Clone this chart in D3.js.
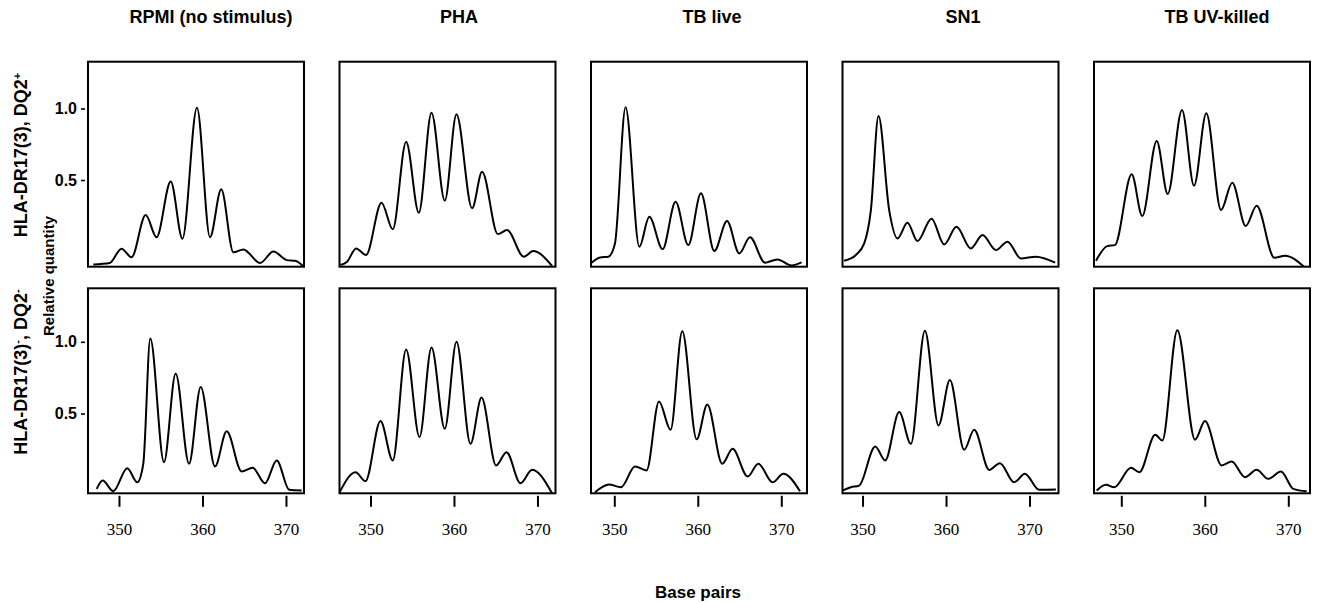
<!DOCTYPE html>
<html>
<head>
<meta charset="utf-8">
<script src="https://cdn.jsdelivr.net/npm/d3@7/dist/d3.min.js"></script>
<style>
  html, body { margin: 0; padding: 0; background: #fff; }
  svg { display: block; }
</style>
</head>
<body>
<svg id="chart" width="1317" height="603"></svg>
<script>
// Stimulation conditions (columns) and donor groups (rows)
const conditions = ["RPMI (no stimulus)", "PHA", "TB live", "SN1", "TB UV-killed"];
const groups = [
  { main: "HLA-DR17(3), DQ2", sups: [["", ""], ["+", ""]] },
  { main: "", sups: [] }
];
const xTicks = [350, 360, 370];
const yTicks = [0.5, 1.0];

// Visible base-pair window for each column and relative-quantity window for each row
const xDomains = [[346.29, 372.16], [346.29, 372.16], [347.21, 373.08], [347.60, 373.47], [346.73, 372.60]];
const yDomains = [[-0.106, 1.327], [-0.056, 1.373]];

// Spectratype profiles: [base pairs, relative quantity]
// Row 1: HLA-DR17(3), DQ2+
const dq2posRPMI = [[346.93,-0.09],[348.9,-0.08],[350.3,0.02],[351.5,-0.04],[353.2,0.255],[354.5,0.10],[356.2,0.49],[357.6,0.09],[359.34,1.005],[360.9,0.10],[362.25,0.435],[363.7,-0.005],[364.9,0.015],[366.9,-0.08],[368.5,0.0],[370.1,-0.06],[371.1,-0.065],[372.1,-0.105]];
const dq2posPHA = [[346.41,-0.094],[347.2,-0.071],[348.28,0.022],[349.47,-0.024],[351.32,0.341],[352.67,0.155],[354.27,0.768],[355.79,0.271],[357.31,0.971],[358.9,0.355],[360.3,0.959],[362.17,0.302],[363.37,0.558],[365.25,0.122],[366.36,0.150],[368.36,-0.036],[369.48,0.003],[371.75,-0.101]];
const dq2posTBlive = [[347.28,-0.078],[348.29,-0.041],[349.28,-0.036],[350.08,0.057],[351.35,1.008],[353.0,0.034],[354.19,0.243],[355.79,0.017],[357.34,0.348],[358.86,0.045],[360.38,0.407],[361.98,0.003],[363.5,0.213],[364.97,-0.013],[366.25,0.099],[368.05,-0.078],[369.52,-0.055],[371.23,-0.097],[372.43,-0.076]];
const dq2posSN1 = [[347.8,-0.064],[349.2,-0.024],[350.2,0.057],[351.0,0.29],[351.91,0.948],[353.19,0.29],[354.19,0.092],[355.38,0.201],[356.58,0.073],[358.26,0.229],[359.78,0.050],[361.25,0.173],[362.97,0.022],[364.37,0.115],[365.97,0.010],[367.36,0.069],[368.96,-0.048],[370.76,-0.036],[373.07,-0.078]];
const dq2posTBUV = [[346.97,-0.064],[348.32,0.038],[349.24,0.045],[351.24,0.540],[352.51,0.248],[354.24,0.773],[355.56,0.402],[357.27,0.990],[358.71,0.460],[360.18,0.966],[361.94,0.290],[363.29,0.481],[364.9,0.178],[366.21,0.320],[368.32,-0.043],[369.6,-0.029],[371.88,-0.106]];
// Row 2: HLA-DR17(3)-, DQ2-
const dq2negRPMI = [[347.33,-0.025],[348.05,0.033],[349.32,-0.042],[350.99,0.119],[352.19,0.021],[352.91,0.150],[353.75,1.023],[355.39,0.161],[356.79,0.779],[358.39,0.150],[359.79,0.685],[361.5,0.131],[362.9,0.376],[364.7,0.096],[366.01,0.122],[367.49,0.014],[368.89,0.173],[370.4,-0.032],[371.88,-0.037]];
const dq2negPHA = [[346.3,-0.049],[348.21,0.091],[349.4,0.028],[351.2,0.448],[352.67,0.173],[354.27,0.947],[355.87,0.336],[357.31,0.961],[358.9,0.394],[360.3,1.001],[361.98,0.289],[363.3,0.611],[365.05,0.138],[366.29,0.231],[367.97,0.014],[369.36,0.108],[371.75,-0.056]];
const dq2negTBlive = [[347.69,-0.049],[349.37,0.005],[350.8,-0.014],[352.48,0.131],[353.87,0.103],[355.35,0.584],[356.74,0.387],[358.14,1.073],[359.86,0.320],[361.14,0.563],[362.93,0.150],[364.17,0.254],[365.97,0.061],[367.25,0.150],[368.96,0.021],[370.24,0.080],[372.24,-0.042]];
const dq2negSN1 = [[347.6,-0.037],[348.6,-0.014],[349.6,-0.002],[351.52,0.271],[352.71,0.173],[354.39,0.510],[355.79,0.289],[357.47,1.077],[359.1,0.417],[360.46,0.733],[362.17,0.247],[363.37,0.387],[365.17,0.107],[366.45,0.154],[368.16,0.021],[369.44,0.080],[371.15,-0.032],[373.16,-0.030]];
const dq2negTBUV = [[347.05,-0.037],[348.17,0.003],[349.16,-0.014],[351.16,0.122],[352.16,0.091],[354.07,0.352],[354.91,0.312],[356.71,1.081],[358.83,0.318],[360.02,0.448],[362.02,0.138],[363.22,0.166],[364.81,0.056],[366.21,0.108],[367.6,0.045],[369.12,0.096],[370.6,-0.025],[372.2,-0.042]];

const profiles = [
  [dq2posRPMI, dq2posPHA, dq2posTBlive, dq2posSN1, dq2posTBUV],
  [dq2negRPMI, dq2negPHA, dq2negTBlive, dq2negSN1, dq2negTBUV]
];

// Panel grid geometry
const panelW = 216, panelH = 205;
const colLeft = c => 88 + c * 251.5;
const rowTop = [61.7, 288.3];

const svg = d3.select("#chart");
const sans = "'Liberation Sans', Arial, Helvetica, sans-serif";
const serif = "'Liberation Serif', 'Times New Roman', serif";

const defs = svg.append("defs");

profiles.forEach((row, r) => {
  row.forEach((pts, c) => {
    const x0 = colLeft(c), y0 = rowTop[r];
    const x = d3.scaleLinear().domain(xDomains[c]).range([x0, x0 + panelW]);
    const y = d3.scaleLinear().domain(yDomains[r]).range([y0 + panelH, y0]);

    const clipId = `clip-${r}-${c}`;
    defs.append("clipPath").attr("id", clipId)
      .append("rect").attr("x", x0).attr("y", y0).attr("width", panelW).attr("height", panelH);

    const line = d3.line()
      .x(d => x(d[0]))
      .y(d => y(d[1]))
      .curve(d3.curveMonotoneX);

    svg.append("path")
      .datum(pts)
      .attr("clip-path", `url(#${clipId})`)
      .attr("d", line)
      .attr("fill", "none")
      .attr("stroke", "#000")
      .attr("stroke-width", 2)
      .attr("stroke-linejoin", "round");

    svg.append("rect")
      .attr("x", x0).attr("y", y0)
      .attr("width", panelW).attr("height", panelH)
      .attr("fill", "none").attr("stroke", "#000").attr("stroke-width", 2);

    // Relative quantity ticks on the first column
    if (c === 0) {
      const ya = svg.append("g")
        .attr("transform", `translate(${x0 - 3},0)`)
        .call(d3.axisLeft(y).tickValues(yTicks).tickSize(4).tickPadding(4).tickFormat(d3.format(".1f")));
      ya.select(".domain").remove();
      ya.selectAll("line").attr("stroke", "#000").attr("stroke-width", 1.6);
      ya.selectAll("text")
        .attr("font-family", sans).attr("font-size", 16).attr("font-weight", "bold").attr("fill", "#000");
    }

    // Base-pair ticks along the bottom row
    if (r === 1) {
      const xa = svg.append("g")
        .attr("transform", `translate(0,${y0 + panelH + 2.5})`)
        .call(d3.axisBottom(x).tickValues(xTicks).tickSize(11).tickPadding(16));
      xa.select(".domain").remove();
      xa.selectAll("line").attr("stroke", "#000").attr("stroke-width", 2);
      xa.selectAll("text")
        .attr("font-family", serif).attr("font-size", 17).attr("fill", "#000");
    }
  });
});

// Column titles
const titleCenters = [211, 459, 712, 963, 1217];
conditions.forEach((t, c) => {
  svg.append("text")
    .attr("x", titleCenters[c]).attr("y", 23)
    .attr("text-anchor", "middle")
    .attr("font-family", sans).attr("font-size", 18).attr("font-weight", "bold")
    .text(t);
});

// Row labels (rotated) with superscript signs
function rowLabel(cx, cy, parts) {
  const t = svg.append("text")
    .attr("transform", `translate(${cx},${cy}) rotate(-90)`)
    .attr("text-anchor", "middle")
    .attr("font-family", sans).attr("font-size", 18).attr("font-weight", "bold");
  parts.forEach(p => {
    const s = t.append("tspan").text(p.text);
    if (p.sup) s.attr("baseline-shift", "super").attr("font-size", 11);
  });
}
rowLabel(27, 155, [{ text: "HLA-DR17(3), DQ2" }, { text: "+", sup: true }]);
rowLabel(27, 372, [{ text: "HLA-DR17(3)" }, { text: "-", sup: true }, { text: ", DQ2" }, { text: "-", sup: true }]);

// Shared axis titles
svg.append("text")
  .attr("transform", "translate(54,276) rotate(-90)")
  .attr("text-anchor", "middle")
  .attr("font-family", sans).attr("font-size", 15).attr("font-weight", "bold")
  .text("Relative quantity");

svg.append("text")
  .attr("x", 698).attr("y", 598)
  .attr("text-anchor", "middle")
  .attr("font-family", sans).attr("font-size", 17).attr("font-weight", "bold")
  .text("Base pairs");
</script>
</body>
</html>
